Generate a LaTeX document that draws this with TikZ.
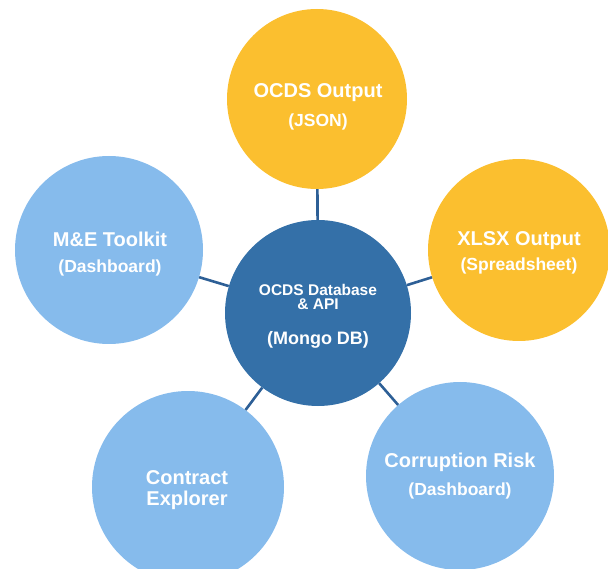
\documentclass[tikz,border=0pt]{standalone}
\usepackage{fontspec}
\setmainfont{Liberation Sans}
\definecolor{ocdsyellow}{HTML}{FBBF2F}
\definecolor{lightblue}{HTML}{86BBEC}
\definecolor{darkblue}{HTML}{3470A8}
\definecolor{linkblue}{HTML}{2D5F96}
\newcommand{\subline}[1]{{\fontsize{17.5}{20}\selectfont #1}}
\tikzset{
  bubble/.style = {circle, draw=none, inner sep=0pt},
  caption/.style = {text=white, align=center, inner sep=0pt},
  link/.style   = {draw=linkblue, line width=2.6pt}
}
\begin{document}
\begin{tikzpicture}[x=1pt, y=-1pt]
        \useasboundingbox (0,0) rectangle (608,569);

        \node[bubble, fill=darkblue,   minimum size=186pt] at (318,313) (db)   {};
        \node[bubble, fill=ocdsyellow, minimum size=180pt] at (317, 99) (json) {};
        \node[bubble, fill=ocdsyellow, minimum size=182pt] at (519,250) (xlsx) {};
        \node[bubble, fill=lightblue,  minimum size=188pt] at (109,250) (me)   {};
        \node[bubble, fill=lightblue,  minimum size=192pt] at (188,487) (ce)   {};
        \node[bubble, fill=lightblue,  minimum size=188pt] at (460,476) (cr)   {};

        \node[caption, font=\bfseries\fontsize{15.5}{14}\selectfont] at (318,316) (db-text)
          {OCDS Database\\\& API\\[21pt]{\fontsize{18}{20}\selectfont (Mongo DB)}};
        \node[caption, font=\bfseries\fontsize{20}{29}\selectfont] at (318,107) (json-text)
          {OCDS Output\\\subline{(JSON)}};
        \node[caption, font=\bfseries\fontsize{20}{25}\selectfont] at (519,253) (xlsx-text)
          {XLSX Output\\\subline{(Spreadsheet)}};
        \node[caption, font=\bfseries\fontsize{20}{26}\selectfont] at (110,254) (me-text)
          {M\&E Toolkit\\\subline{(Dashboard)}};
        \node[caption, font=\bfseries\fontsize{20}{21}\selectfont] at (187,490) (ce-text)
          {Contract\\Explorer};
        \node[caption, font=\bfseries\fontsize{20}{28}\selectfont] at (460,476) (cr-text)
          {Corruption Risk\\\subline{(Dashboard)}};

        \draw[link] (db) edge (json);
        \draw[link] (db) edge (xlsx);
        \draw[link] (db) edge (me);
        \draw[link] (db) edge (ce);
        \draw[link] (db) edge (cr);
      \end{tikzpicture}
\end{document}
